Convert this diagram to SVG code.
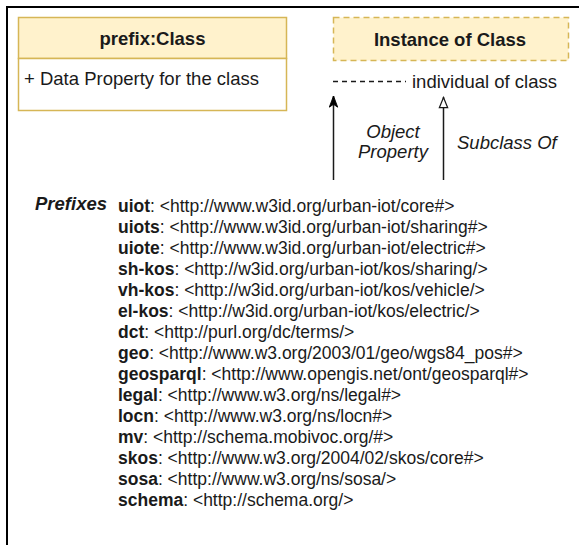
<svg xmlns="http://www.w3.org/2000/svg" width="579" height="545" viewBox="0 0 579 545">
<defs>
<style>
text{font-family:"Liberation Sans",Arial,Helvetica,sans-serif;fill:#1a1a1a}
.t{font-size:18.5px}
.p{font-size:17.5px}
.b{font-weight:bold}
.i{font-style:italic}
.cls{fill:#fff2cc;stroke:#d6b656;stroke-width:1.5}
.body{fill:#ffffff;stroke:#d6b656;stroke-width:1.5}
.conn{stroke:#1a1a1a;stroke-width:1.5;fill:none}
</style>
<marker id="filled" markerWidth="13" markerHeight="10" refX="12" refY="4.5" orient="auto" markerUnits="userSpaceOnUse" viewBox="-1 -0.5 14 10">
<path d="M0,0 L12,4.5 L0,9 L3,4.5 Z" fill="#000" stroke="#000" stroke-width="1"/>
</marker>
<marker id="open" markerWidth="13" markerHeight="11" refX="12" refY="4.5" orient="auto" markerUnits="userSpaceOnUse" viewBox="-1 -1 14 11">
<path d="M0.5,0 L11.5,4.5 L0.5,9 Z" fill="#fff" stroke="#1a1a1a" stroke-width="1.3"/>
</marker>
</defs>
<rect x="0" y="0" width="579" height="545" fill="#ffffff"/>
<g id="frame">
<path d="M7,545 L7,7 L579,7" fill="none" stroke="#000" stroke-width="2"/>
</g>
<g id="class-node">
<rect class="cls" x="18.5" y="17.5" width="268" height="41"/>
<rect class="body" x="18.5" y="58.5" width="268" height="52"/>
<text class="t b" x="152.5" y="44.5" text-anchor="middle">prefix:Class</text>
<text class="t" x="24" y="85">+ Data Property for the class</text>
</g>
<g id="instance-node">
<rect class="cls" x="333.5" y="17.5" width="235" height="43" stroke-dasharray="6 4"/>
<text class="t b" x="450" y="46" text-anchor="middle">Instance of Class</text>
</g>
<g id="individual-legend">
<line x1="333" y1="81.5" x2="406" y2="81.5" stroke="#1a1a1a" stroke-width="1.3" stroke-dasharray="5 4"/>
<text class="t" x="412" y="87.5">individual of class</text>
</g>
<g id="connectors">
<line class="conn" x1="333.5" y1="180" x2="333.5" y2="96" marker-end="url(#filled)"/>
<line class="conn" x1="443.5" y1="180" x2="443.5" y2="97" marker-end="url(#open)"/>
</g>
<g id="connector-labels">
<text class="t i" x="393" y="137.5" text-anchor="middle">Object</text>
<text class="t i" x="393" y="158" text-anchor="middle">Property</text>
<text class="t i" x="457" y="148.5">Subclass Of</text>
</g>
<g id="prefixes">
<text class="t b i" x="35" y="210">Prefixes</text>
<text class="p" x="118">
<tspan x="118" y="212"><tspan class="b">uiot</tspan>: &lt;http://www.w3id.org/urban-iot/core#&gt;</tspan>
<tspan x="118" y="233"><tspan class="b">uiots</tspan>: &lt;http://www.w3id.org/urban-iot/sharing#&gt;</tspan>
<tspan x="118" y="254"><tspan class="b">uiote</tspan>: &lt;http://www.w3id.org/urban-iot/electric#&gt;</tspan>
<tspan x="118" y="275"><tspan class="b">sh-kos</tspan>: &lt;http://w3id.org/urban-iot/kos/sharing/&gt;</tspan>
<tspan x="118" y="296"><tspan class="b">vh-kos</tspan>: &lt;http://w3id.org/urban-iot/kos/vehicle/&gt;</tspan>
<tspan x="118" y="317"><tspan class="b">el-kos</tspan>: &lt;http://w3id.org/urban-iot/kos/electric/&gt;</tspan>
<tspan x="118" y="338"><tspan class="b">dct</tspan>: &lt;http://purl.org/dc/terms/&gt;</tspan>
<tspan x="118" y="359"><tspan class="b">geo</tspan>: &lt;http://www.w3.org/2003/01/geo/wgs84_pos#&gt;</tspan>
<tspan x="118" y="380"><tspan class="b">geosparql</tspan>: &lt;http://www.opengis.net/ont/geosparql#&gt;</tspan>
<tspan x="118" y="401"><tspan class="b">legal</tspan>: &lt;http://www.w3.org/ns/legal#&gt;</tspan>
<tspan x="118" y="422"><tspan class="b">locn</tspan>: &lt;http://www.w3.org/ns/locn#&gt;</tspan>
<tspan x="118" y="443"><tspan class="b">mv</tspan>: &lt;http://schema.mobivoc.org/#&gt;</tspan>
<tspan x="118" y="464"><tspan class="b">skos</tspan>: &lt;http://www.w3.org/2004/02/skos/core#&gt;</tspan>
<tspan x="118" y="485"><tspan class="b">sosa</tspan>: &lt;http://www.w3.org/ns/sosa/&gt;</tspan>
<tspan x="118" y="506"><tspan class="b">schema</tspan>: &lt;http://schema.org/&gt;</tspan>
</text>
</g>
</svg>
